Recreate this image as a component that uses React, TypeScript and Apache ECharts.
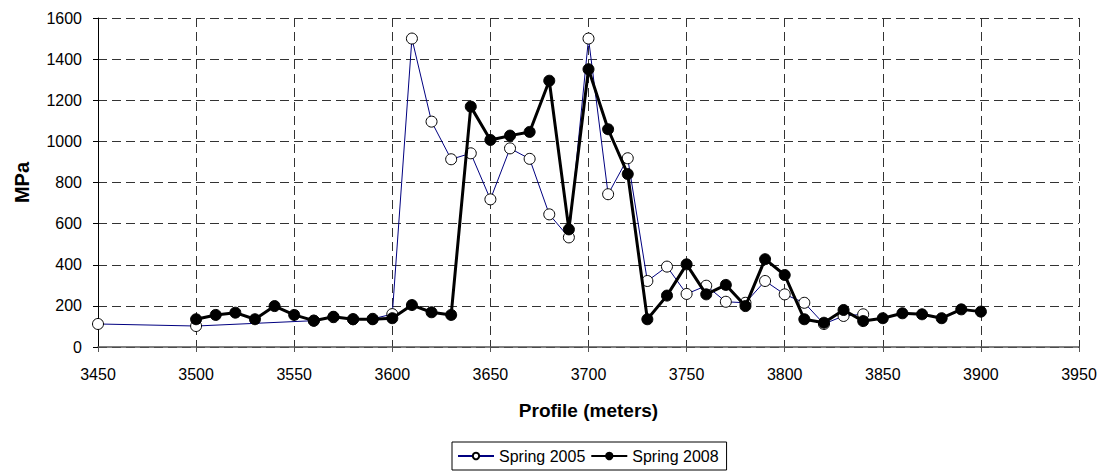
import React, { useEffect, useRef } from "react";
import * as echarts from "echarts";

const profile2005 = [3450, 3500, 3560, 3570, 3580, 3590, 3600, 3610, 3620, 3630, 3640, 3650, 3660, 3670, 3680, 3690, 3700, 3710, 3720, 3730, 3740, 3750, 3760, 3770, 3780, 3790, 3800, 3810, 3820, 3830, 3840];
const mpa2005 = [112, 102, 128, 145, 135, 137, 160, 1500, 1096, 913, 942, 718, 966, 915, 645, 533, 1500, 743, 918, 321, 391, 258, 298, 220, 215, 321, 256, 215, 112, 151, 159];

const profile2008 = [3500, 3510, 3520, 3530, 3540, 3550, 3560, 3570, 3580, 3590, 3600, 3610, 3620, 3630, 3640, 3650, 3660, 3670, 3680, 3690, 3700, 3710, 3720, 3730, 3740, 3750, 3760, 3770, 3780, 3790, 3800, 3810, 3820, 3830, 3840, 3850, 3860, 3870, 3880, 3890, 3900];
const mpa2008 = [135, 156, 167, 135, 199, 156, 128, 147, 135, 135, 140, 204, 169, 156, 1169, 1007, 1028, 1046, 1295, 572, 1351, 1059, 841, 135, 250, 402, 256, 302, 199, 427, 350, 135, 118, 180, 126, 140, 164, 159, 140, 183, 172];

const seriesNames = ["Spring 2005", "Spring 2008"];
const xTitle = "Profile (meters)";
const yTitle = "MPa";

const FONT = "'Liberation Sans', Arial, sans-serif";

export default function App() {
  const ref = useRef<HTMLDivElement>(null);
  useEffect(() => {
    if (!ref.current) return;
    const chart = echarts.init(ref.current, undefined, { renderer: "svg" });
    const gridLine = { show: true, lineStyle: { color: "#333", width: 1, type: [9, 5] as any } };
    chart.setOption({
      animation: false,
      backgroundColor: "#ffffff",
      textStyle: { fontFamily: FONT },
      grid: { left: 98, right: 23, top: 18, bottom: 124, containLabel: false },
      xAxis: {
        type: "value",
        min: 3450,
        max: 3950,
        interval: 50,
        name: xTitle,
        nameLocation: "middle",
        nameGap: 54,
        nameTextStyle: { fontSize: 19, fontWeight: "bold", color: "#000", fontFamily: FONT },
        axisLine: { show: true, lineStyle: { color: "#555", width: 1.5 } },
        axisTick: { show: true, length: 5, lineStyle: { color: "#555" } },
        axisLabel: { fontSize: 16, color: "#000", margin: 19, fontFamily: FONT, formatter: (v: number) => String(v) },
        splitLine: gridLine,
      },
      yAxis: {
        type: "value",
        min: 0,
        max: 1600,
        interval: 200,
        name: yTitle,
        nameLocation: "middle",
        nameGap: 66,
        nameTextStyle: { fontSize: 20, fontWeight: "bold", color: "#000", fontFamily: FONT },
        axisLine: { show: true, lineStyle: { color: "#000", width: 1 } },
        axisTick: { show: true, length: 5, lineStyle: { color: "#000" } },
        axisLabel: { fontSize: 16, color: "#000", margin: 16, fontFamily: FONT, formatter: (v: number) => String(v) },
        splitLine: gridLine,
      },
      legend: {
        left: 452,
        top: 442,
        orient: "horizontal",
        itemWidth: 36,
        itemHeight: 8,
        itemGap: 5,
        padding: [6, 8, 6, 5],
        borderColor: "#000",
        borderWidth: 1,
        textStyle: { fontSize: 16, color: "#000", fontFamily: FONT },
        data: seriesNames,
      },
      series: [
        {
          name: seriesNames[0],
          type: "line",
          data: profile2005.map((x, i) => [x, mpa2005[i]]),
          symbol: "circle",
          symbolSize: 11,
          showAllSymbol: true,
          lineStyle: { color: "#000080", width: 1 },
          itemStyle: { color: "#ffffff", borderColor: "#000", borderWidth: 1 },
          z: 2,
        },
        {
          name: seriesNames[1],
          type: "line",
          data: profile2008.map((x, i) => [x, mpa2008[i]]),
          symbol: "circle",
          symbolSize: 11,
          showAllSymbol: true,
          lineStyle: { color: "#000", width: 3 },
          itemStyle: { color: "#000", borderColor: "#000", borderWidth: 1 },
          z: 3,
        },
      ],
    });
    return () => chart.dispose();
  }, []);
  return (
    <div
      ref={ref}
      style={{ position: "fixed", left: 0, top: 0, width: 1102, height: 471, background: "#fff" }}
    />
  );
}
